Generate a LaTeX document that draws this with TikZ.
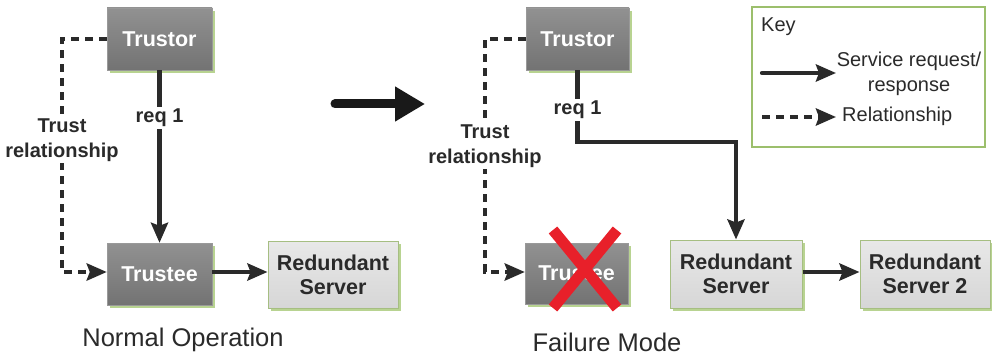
\documentclass[tikz,border=0pt]{standalone}
\usepackage{fontspec}
\setmainfont{Liberation Sans}
\usetikzlibrary{arrows.meta,calc}
\definecolor{ink}{HTML}{2A2A2A}
\definecolor{shadowgreen}{HTML}{B8D391}
\definecolor{keygreen}{HTML}{9CBF6C}
\definecolor{xred}{HTML}{E8202A}
\tikzset{
  darkbox/.style={minimum width=#1, minimum height=62pt, inner sep=0pt,
    top color=black!43, bottom color=black!55, draw=black!40, line width=0.4pt,
    text=white, font=\fontsize{21.5}{23}\selectfont\bfseries},
  lightbox/.style={minimum width=#1, minimum height=68pt, inner sep=0pt, align=center,
    top color=black!9, bottom color=black!16, draw=shadowgreen!90!black, line width=1pt,
    text=ink, font=\fontsize{21.5}{24}\selectfont\bfseries},
  conn/.style={draw=ink, line width=4.2pt, -{Stealth[length=20pt,width=17pt,inset=3pt]}},
  rel/.style={conn, dash pattern=on 8pt off 6pt},
  lbl/.style={fill=white, inner sep=2pt, align=center, text=ink,
    font=\fontsize{20}{24.5}\selectfont\bfseries},
  keytext/.style={text=ink, font=\fontsize{20}{25}\selectfont, align=center, inner sep=0pt},
  caption/.style={text=ink, font=\fontsize{25.5}{27}\selectfont, inner sep=0pt}
}
\newcommand{\boxshadow}[1]{\fill[shadowgreen] ($(#1.south west)+(3pt,-3pt)$) rectangle ($(#1.north east)+(3pt,-3pt)$);}
\begin{document}
\begin{tikzpicture}[x=1pt,y=-1pt]
\useasboundingbox (0,0) rectangle (992,355);
% shadows drawn first via placeholder nodes
\path (159.5,39) node[minimum width=105pt,minimum height=62pt] (s1) {};
\path (159.5,274) node[minimum width=105pt,minimum height=62pt] (s2) {};
\path (333,274.5) node[minimum width=130pt,minimum height=67pt] (s3) {};
\path (577.5,39) node[minimum width=103pt,minimum height=62pt] (s4) {};
\path (576.5,273.5) node[minimum width=103pt,minimum height=61pt] (s5) {};
\path (736,274) node[minimum width=132pt,minimum height=68pt] (s6) {};
\path (925,274) node[minimum width=130pt,minimum height=68pt] (s7) {};
\boxshadow{s1}\boxshadow{s2}\boxshadow{s3}\boxshadow{s4}\boxshadow{s5}\boxshadow{s6}\boxshadow{s7}
% nodes
\node[darkbox=105pt] (ltrustor) at (159.5,39) {Trustor};
\node[darkbox=105pt] (ltrustee) at (159.5,274) {Trustee};
\node[lightbox=130pt, minimum height=67pt] (lrs) at (333,274.5) {Redundant\\Server};
\node[darkbox=103pt] (rtrustor) at (577.5,39) {Trustor};
\node[darkbox=103pt, minimum height=61pt] (rtrustee) at (576.5,273.5) {Trustee};
\node[lightbox=132pt] (rrs) at (736,274) {Redundant\\Server};
\node[lightbox=130pt] (rrs2) at (925,274) {Redundant\\Server 2};
% left connectors
\draw[conn] (ltrustor.south) -- (ltrustee.north);
\node[lbl] (lreq) at (159.5,118) {req 1};
\draw[rel] (ltrustor.west) -- (62,39) -- (62,272) -- (ltrustee.west |- 0,272);
\node[lbl] (ltrust) at (62,140) {Trust\\relationship};
\draw[conn] (ltrustee.east |- 0,272) -- (lrs.west |- 0,272);
% big arrow
\coordinate (ba1) at (335,104);
\coordinate (ba2) at (425,104);
\draw[draw=black!90, line width=9pt, line cap=round, -{Triangle[length=30pt,width=33pt]}] (ba1) -- (ba2);
% right connectors
\draw[conn] (rtrustor.south) -- (577.5,142) -- (736,142) -- (rrs.north);
\node[lbl] (rreq) at (577.5,110) {req 1};
\draw[rel] (rtrustor.west) -- (485,39) -- (485,272) -- (rtrustee.west |- 0,272);
\node[lbl] (rtrust) at (485,146) {Trust\\relationship};
\draw[conn] (rrs.east |- 0,272) -- (rrs2.west |- 0,272);
% red X
\draw[xred, line width=11pt] (553,230) -- (617,308);
\draw[xred, line width=11pt] (617,230) -- (553,308);
% key
\draw[keygreen, line width=1.5pt] (752,7) rectangle (985,147);
\node[keytext, anchor=west] (keyt) at (761,27) {Key};
\coordinate (k1a) at (762,73);
\coordinate (k1b) at (836,73);
\draw[conn, line cap=round] (k1a) -- (k1b);
\node[keytext] (k1t) at (909,74) {Service request/\\response};
\coordinate (k2a) at (762,117);
\coordinate (k2b) at (836,117);
\draw[rel] (k2a) -- (k2b);
\node[keytext, anchor=west] (k2t) at (842,116) {Relationship};
% captions
\node[caption] (cap1) at (183,340) {Normal Operation};
\node[caption] (cap2) at (607,342) {Failure Mode};
\end{tikzpicture}
\end{document}
